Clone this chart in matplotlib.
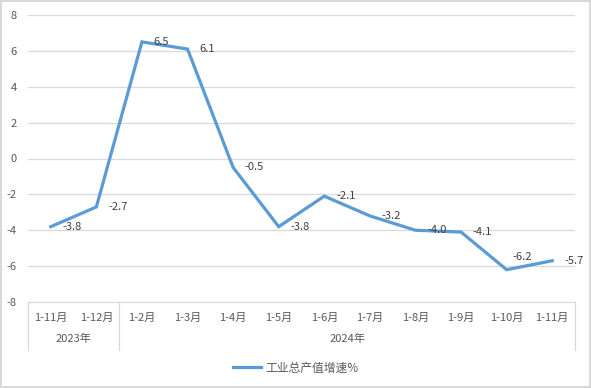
import matplotlib
matplotlib.use("Agg")
import matplotlib.pyplot as plt
from matplotlib.lines import Line2D
import matplotlib.transforms as mtransforms

plt.rcParams['font.family'] = ['Noto Sans CJK SC', 'DejaVu Sans']

categories = ['1-11月', '1-12月', '1-2月', '1-3月', '1-4月', '1-5月', '1-6月',
              '1-7月', '1-8月', '1-9月', '1-10月', '1-11月']
years = ['2023年', '2024年']
year_spans = [(0, 1), (2, 11)]
values = [-3.8, -2.7, 6.5, 6.1, -0.5, -3.8, -2.1, -3.2, -4.0, -4.1, -6.2, -5.7]
series_name = '工业总产值增速%'
yticks = [-8, -6, -4, -2, 0, 2, 4, 6, 8]

W, H = 591, 388
fig = plt.figure(figsize=(W/100, H/100), dpi=100)
fig.patch.set_facecolor('white')
fig.patch.set_edgecolor('#D9D9D9')
fig.patch.set_linewidth(1.5)

left, right, top, bottom = 28, 575, 15, 302
ax = fig.add_axes([left/W, 1 - bottom/H, (right-left)/W, (bottom-top)/H])

line_color = '#5B9BD5'
text_color = '#595959'
grid_color = '#D9D9D9'
fs = 8

x = list(range(len(values)))
ax.plot(x, values, color=line_color, linewidth=2.3, solid_joinstyle='miter')

ax.set_xlim(-0.5, len(values) - 0.5)
ax.set_ylim(-8, 8)
ax.set_yticks(yticks)
ax.set_yticklabels([str(t) for t in yticks], fontsize=fs, color=text_color)
ax.yaxis.grid(True, color=grid_color, linewidth=0.9)
ax.set_axisbelow(True)
ax.tick_params(axis='y', length=0, pad=8)
ax.set_xticks(x)
ax.set_xticklabels(categories, fontsize=fs, color=text_color)
ax.tick_params(axis='x', length=0, pad=8)
for s in ['top', 'right', 'left']:
    ax.spines[s].set_visible(False)
ax.spines['bottom'].set_color(grid_color)

# data labels
offsets = {10: (4, 9)}
for i, v in enumerate(values):
    dx, dy = offsets.get(i, (8.5, 0))
    ax.annotate(f'{v:.1f}', (i, v), xytext=(dx, dy), textcoords='offset points',
                ha='left', va='center', fontsize=fs, color='#404040')

# category box separators
trans = mtransforms.blended_transform_factory(ax.transData, ax.transAxes)
box_h = 48 / (bottom - top)
for xs in [-0.5, 1.5, len(values) - 0.5]:
    ax.plot([xs, xs], [0, -box_h], color=grid_color, linewidth=0.9,
            transform=trans, clip_on=False)

# year labels
for yr, (a, b) in zip(years, year_spans):
    ax.text((a + b) / 2, -37 / (bottom - top), yr, transform=trans,
            ha='center', va='center', fontsize=fs, color=text_color)

handle = Line2D([], [], color=line_color, linewidth=2.3)
fig.legend([handle], [series_name], loc='center', bbox_to_anchor=(0.5, 1 - 368/H),
           frameon=False, fontsize=8.5, labelcolor=text_color, handlelength=2.4,
           handletextpad=0.3)

fig.savefig('out.png', dpi=100, facecolor=fig.get_facecolor(),
            edgecolor=fig.get_edgecolor())
